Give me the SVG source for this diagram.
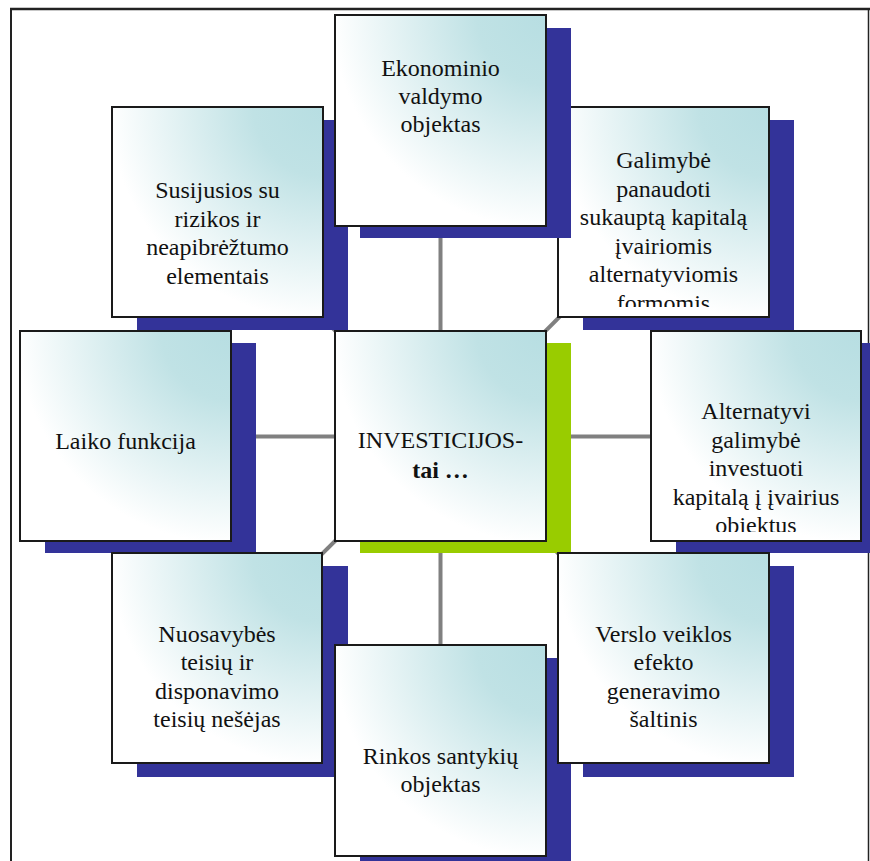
<svg xmlns="http://www.w3.org/2000/svg" width="870" height="861" viewBox="0 0 870 861">
  <defs>
    <radialGradient id="boxfill" cx="1" cy="0" r="1.1" fx="1" fy="0">
      <stop offset="0" stop-color="#b7dee2"/>
      <stop offset="0.3" stop-color="#c0e2e5"/>
      <stop offset="0.92" stop-color="#ffffff"/>
      <stop offset="1" stop-color="#ffffff"/>
    </radialGradient>
    <clipPath id="clipTR"><rect x="558" y="107" width="211" height="200"/></clipPath>
    <clipPath id="clipR"><rect x="651" y="331" width="211" height="201"/></clipPath>
  </defs>
  <style>
    .frame { stroke: #222; fill: none; }
    .conn { stroke: #808080; stroke-width: 4; fill: none; }
    .shadow { fill: #333399; }
    .shadowG { fill: #99cc00; }
    .box { fill: url(#boxfill); stroke: #1a1a1a; stroke-width: 2; }
    text { font-family: Liberation Serif, DejaVu Serif, serif; font-size: 24px; fill: #111; text-anchor: middle; }
    .bold { font-weight: bold; }
  </style>

  <rect x="0" y="0" width="870" height="861" fill="#ffffff"/>
  <g id="frame">
    <line class="frame" x1="10" y1="9" x2="870" y2="9" stroke-width="2.5"/>
    <line class="frame" x1="11" y1="9" x2="11" y2="861" stroke-width="2"/>
    <line class="frame" x1="868.5" y1="9" x2="868.5" y2="861" stroke-width="1.5"/>
  </g>

  <g id="connectors">
    <line class="conn" x1="440.5" y1="436.5" x2="440.5" y2="120"/>
    <line class="conn" x1="440.5" y1="436.5" x2="440.5" y2="750"/>
    <line class="conn" x1="440.5" y1="436.5" x2="125.5" y2="436.5"/>
    <line class="conn" x1="440.5" y1="436.5" x2="756" y2="436.5"/>
    <line class="conn" x1="440.5" y1="436.5" x2="217.5" y2="212.5"/>
    <line class="conn" x1="440.5" y1="436.5" x2="663.5" y2="212.5"/>
    <line class="conn" x1="440.5" y1="436.5" x2="217" y2="658"/>
    <line class="conn" x1="440.5" y1="436.5" x2="663.5" y2="658"/>
  </g>

  <g id="node-tl">
    <rect class="shadow" x="137" y="120" width="211" height="210"/>
    <rect class="box" x="112" y="107" width="211" height="210"/>
    <text x="217.5" y="198">Susijusios su</text>
    <text x="217.5" y="226.5">rizikos ir</text>
    <text x="217.5" y="255">neapibrėžtumo</text>
    <text x="217.5" y="283.5">elementais</text>
  </g>

  <g id="node-tr">
    <rect class="shadow" x="583" y="120" width="211" height="210"/>
    <rect class="box" x="558" y="107" width="211" height="210"/>
    <g clip-path="url(#clipTR)">
      <text x="663.5" y="168">Galimybė</text>
      <text x="663.5" y="196.5">panaudoti</text>
      <text x="663.5" y="225">sukauptą kapitalą</text>
      <text x="663.5" y="253.5">įvairiomis</text>
      <text x="663.5" y="282">alternatyviomis</text>
      <text x="663.5" y="310.5">formomis</text>
    </g>
  </g>

  <g id="node-top">
    <rect class="shadow" x="360" y="28" width="211" height="210"/>
    <rect class="box" x="335" y="15" width="211" height="211"/>
    <text x="440.5" y="76">Ekonominio</text>
    <text x="440.5" y="104">valdymo</text>
    <text x="440.5" y="132">objektas</text>
  </g>

  <g id="node-l">
    <rect class="shadow" x="45" y="343" width="211" height="210"/>
    <rect class="box" x="20" y="331" width="211" height="210"/>
    <text x="125.5" y="448.5">Laiko funkcija</text>
  </g>

  <g id="node-center">
    <rect class="shadowG" x="360" y="343" width="211" height="210"/>
    <rect class="box" x="335" y="331" width="211" height="210"/>
    <text x="440.5" y="448">INVESTICIJOS-</text>
    <text class="bold" x="440.5" y="477.5">tai …</text>
  </g>

  <g id="node-r">
    <rect class="shadow" x="676" y="343" width="211" height="210"/>
    <rect class="box" x="651" y="331" width="210" height="210"/>
    <g clip-path="url(#clipR)">
      <text x="756" y="419">Alternatyvi</text>
      <text x="756" y="447.5">galimybė</text>
      <text x="756" y="476">investuoti</text>
      <text x="756" y="504.5">kapitalą į įvairius</text>
      <text x="756" y="533">objektus</text>
    </g>
  </g>

  <g id="node-bl">
    <rect class="shadow" x="137" y="566" width="211" height="211"/>
    <rect class="box" x="112" y="553" width="210" height="210"/>
    <text x="217" y="641.5">Nuosavybės</text>
    <text x="217" y="670">teisių ir</text>
    <text x="217" y="698.5">disponavimo</text>
    <text x="217" y="727">teisių nešėjas</text>
  </g>

  <g id="node-b">
    <rect class="shadow" x="360" y="658" width="211" height="210"/>
    <rect class="box" x="335" y="645" width="211" height="211"/>
    <text x="440.5" y="763.5">Rinkos santykių</text>
    <text x="440.5" y="792">objektas</text>
  </g>

  <g id="node-br">
    <rect class="shadow" x="583" y="566" width="211" height="211"/>
    <rect class="box" x="558" y="553" width="211" height="210"/>
    <text x="663.5" y="641.5">Verslo veiklos</text>
    <text x="663.5" y="670">efekto</text>
    <text x="663.5" y="698.5">generavimo</text>
    <text x="663.5" y="727">šaltinis</text>
  </g>
</svg>
